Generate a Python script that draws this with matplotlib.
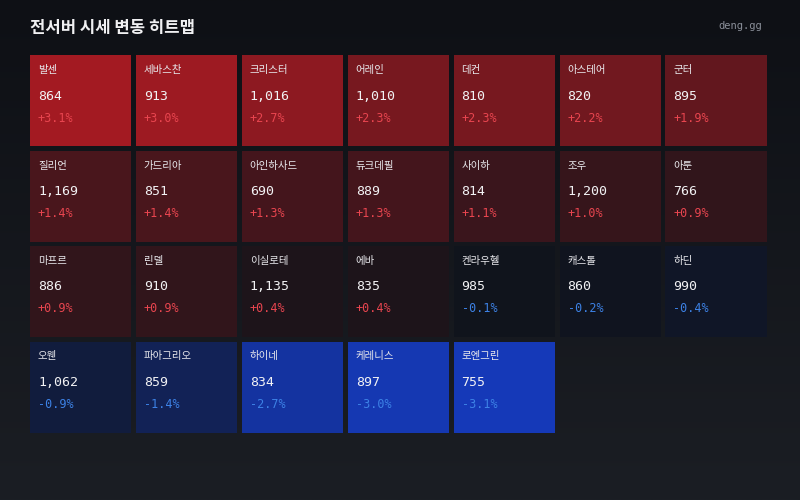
import numpy as np
import matplotlib.pyplot as plt
from matplotlib.patches import Rectangle
from matplotlib.colors import to_rgb

plt.rcParams['font.family'] = ['Noto Sans CJK KR', 'DejaVu Sans']

names = ["발센", "세바스찬", "크리스터", "어레인", "데컨", "아스테어", "군터",
         "질리언", "가드리아", "아인하사드", "듀크데필", "사이하", "조우", "아툰",
         "마프르", "린델", "이실로테", "에바", "켄라우헬", "캐스톨", "하딘",
         "오웬", "파아그리오", "하이네", "케레니스", "로엔그린"]
prices = [864, 913, 1016, 1010, 810, 820, 895,
          1169, 851, 690, 889, 814, 1200, 766,
          886, 910, 1135, 835, 985, 860, 990,
          1062, 859, 834, 897, 755]
changes = [3.1, 3.0, 2.7, 2.3, 2.3, 2.2, 1.9,
           1.4, 1.4, 1.3, 1.3, 1.1, 1.0, 0.9,
           0.9, 0.9, 0.4, 0.4, -0.1, -0.2, -0.4,
           -0.9, -1.4, -2.7, -3.0, -3.1]

W, H = 800, 500
fig = plt.figure(figsize=(8, 5), dpi=100)
ax = fig.add_axes([0, 0, 1, 1])
ax.set_xlim(0, W)
ax.set_ylim(H, 0)
ax.axis("off")

# background gradient
grad = np.linspace(0, 1, 256)[:, None]
c0, c1 = np.array(to_rgb("#0e1015")), np.array(to_rgb("#1b1e24"))
bg = c0 + (c1 - c0) * grad[..., None]
ax.imshow(np.repeat(bg, 2, axis=1), extent=[0, W, H, 0], aspect="auto", zorder=0)

neutral = np.array(to_rgb("#101319"))
red = np.array(to_rgb("#a31a22"))
blue = np.array(to_rgb("#1539b8"))
vmax = max(abs(c) for c in changes)

ncol = 7
x0, y0, cw, ch, gap = 30, 55, 101.4, 91, 4.5
for i, (nm, pr, chg) in enumerate(zip(names, prices, changes)):
    r, c = divmod(i, ncol)
    x = x0 + c * (cw + gap)
    y = y0 + r * (ch + gap)
    t = (abs(chg) / vmax) ** 1.2
    tgt = red if chg > 0 else blue
    col = neutral + (tgt - neutral) * t
    ax.add_patch(Rectangle((x, y), cw, ch, facecolor=col, edgecolor="none", zorder=2))
    ax.text(x + 8, y + 15, nm, fontsize=7.5, color="#e8e8ec", va="center", zorder=3)
    ax.text(x + 8, y + 41, f"{pr:,}", fontsize=9.5, color="#f2f2f4",
            family="DejaVu Sans Mono", va="center", zorder=3)
    pc = "#e8454f" if chg > 0 else "#3d82e6"
    ax.text(x + 8, y + 63, f"{chg:+.1f}%", fontsize=8.5, color=pc,
            family="DejaVu Sans Mono", va="center", zorder=3)

ax.text(30, 28, "전서버 시세 변동 히트맵", fontsize=12, weight="bold",
        color="#f0f0f2", va="center")
ax.text(762, 26, "deng.gg", fontsize=7.5, color="#8a8f99",
        family="DejaVu Sans Mono", ha="right", va="center")

fig.savefig("out.png", dpi=100)
